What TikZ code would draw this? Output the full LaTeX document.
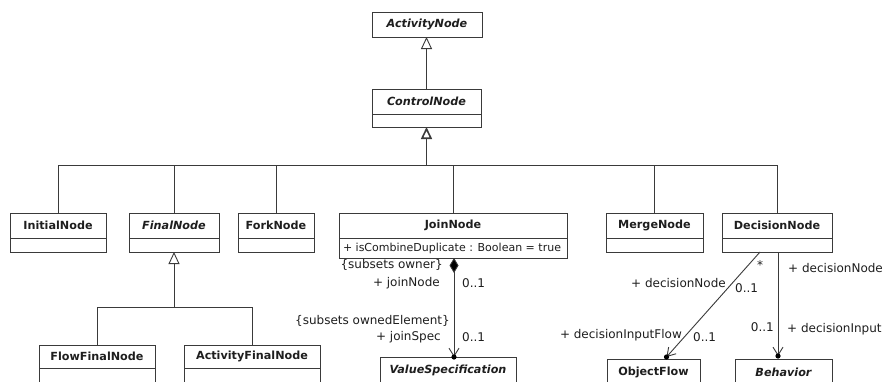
\documentclass[tikz,border=0pt]{standalone}
\usepackage{fontspec}
\setmainfont{DejaVu Sans}
\usetikzlibrary{arrows.meta,calc}
\definecolor{ln}{HTML}{3A3A3A}
\definecolor{tx}{HTML}{1E1E1E}
% name, left, top, right, divider, bottom, text
\newcommand{\umlbox}[7]{%
  \node[boxsty, minimum width={(#4-#2)*1pt}, minimum height={(#6-#3)*1pt}] (#1) at ({(#2+#4)/2},{(#3+#6)/2}) {};
  \draw[boxline] (#2,#5) -- (#4,#5);
  \node[namesty] (#1-name) at ({(#2+#4)/2},{(#3+#5)/2}) {#7};
}
\begin{document}
\begin{tikzpicture}[x=1pt,y=-1pt,
  boxsty/.style={draw=ln, line width=0.9pt, fill=white, inner sep=0pt, outer sep=0pt},
  boxline/.style={draw=ln, line width=0.9pt},
  namesty/.style={font=\fontsize{11.2}{13}\selectfont\bfseries, text=tx, inner sep=0pt},
  attrsty/.style={font=\fontsize{11}{13}\selectfont, text=tx, inner sep=0pt},
  lbl/.style={font=\fontsize{12}{14}\selectfont, text=tx, inner sep=0pt},
  conn/.style={draw=ln, line width=0.9pt},
  gen/.style={conn, -{Triangle[width=11pt,length=12pt,fill=white]}},
  nav/.style={conn, -{Straight Barb[length=8pt,width=10pt]}},
  comp/.style={conn, {Diamond[width=9pt,length=15pt,fill=black]}-{Straight Barb[length=8pt,width=10pt]}},
  dot/.style={fill=black}
]
\clip (0,0) rectangle (887,381);
\fill[white] (0,0) rectangle (887,381);

% classes
\umlbox{activity}{372}{12}{482}{37}{37}{\itshape ActivityNode}
\umlbox{control}{372}{89}{481}{114}{127}{\itshape ControlNode}
\umlbox{initial}{10}{213}{106}{238}{252}{InitialNode}
\umlbox{final}{129}{213}{219}{238}{252}{\itshape FinalNode}
\umlbox{fork}{238}{213}{314}{238}{252}{ForkNode}
\umlbox{join}{339}{213}{567}{238}{258}{JoinNode}
\node[attrsty] (join-attr) at (452,248) {+ isCombineDuplicate : Boolean = true};
\umlbox{merge}{606}{213}{703}{238}{252}{MergeNode}
\umlbox{decision}{722}{213}{832}{238}{252}{DecisionNode}
\umlbox{flowfinal}{39}{345}{155}{368}{395}{FlowFinalNode}
\umlbox{actfinal}{184}{345}{320}{368}{395}{ActivityFinalNode}
\umlbox{valspec}{380}{357}{516}{383}{395}{\itshape ValueSpecification}
\umlbox{objflow}{607}{359}{700}{385}{395}{ObjectFlow}
\umlbox{behavior}{735}{359}{832}{385}{395}{\itshape Behavior}

% ControlNode -> ActivityNode
\draw[gen] (control.north) -- (control.north |- activity.south);

% ControlNode generalization tree
\coordinate (bus) at (426.5,165);
\draw[gen, line width=1.6pt] (bus) -- (control.south);
\draw[conn] (initial.north) -- (initial.north |- bus) -- (decision.north |- bus) -- (decision.north);
\draw[conn] (final.north) -- (final.north |- bus);
\draw[conn] (fork.north) -- (fork.north |- bus);
\draw[conn] (join.north) -- (join.north |- bus);
\draw[conn] (merge.north) -- (merge.north |- bus);

% FinalNode generalization tree
\coordinate (fbus) at (174,307);
\draw[gen] (fbus) -- (final.south);
\draw[conn] (flowfinal.north) -- (flowfinal.north |- fbus) -- (actfinal.north |- fbus) -- (actfinal.north);

% JoinNode -> ValueSpecification
\coordinate (vsend) at ($(join.south |- valspec.north)+(1,0)$);
\coordinate (jstart) at ($(join.south)+(1,0)$);
\draw[comp] (jstart) -- (vsend);
\fill[dot] (vsend) circle (2.6);
\node[lbl, anchor=east] (l1) at (443,265) {\{subsets owner\}};
\node[lbl, anchor=east] (l2) at (440,283) {+ joinNode};
\node[lbl, anchor=west] (l3) at (462,283) {0..1};
\node[lbl, anchor=east] (l4) at (450,321) {\{subsets ownedElement\}};
\node[lbl, anchor=east] (l5) at (441,337) {+ joinSpec};
\node[lbl, anchor=west] (l6) at (462,337) {0..1};

% DecisionNode -> ObjectFlow
\coordinate (dstart) at ($(decision.south)+(-17,0)$);
\coordinate (ofend) at ($(objflow.north)+(13,-2)$);
\draw[nav] (dstart) -- (ofend);
\fill[dot] (ofend) circle (2.6);
\node[lbl, anchor=west] (l7) at (757,265) {*};
\node[lbl, anchor=east] (l8) at (726,283) {+ decisionNode};
\node[lbl, anchor=west] (l9) at (735,288) {0..1};
\node[lbl, anchor=east] (l10) at (682,335) {+ decisionInputFlow};
\node[lbl, anchor=west] (l11) at (693,337) {0..1};

% DecisionNode -> Behavior
\coordinate (bstart) at ($(decision.south)+(1,0)$);
\coordinate (bend) at ($(decision.south |- behavior.north)+(1,-3)$);
\draw[nav] (bstart) -- (bend);
\fill[dot] (bend) circle (2.6);
\node[lbl, anchor=west] (l12) at (788,268) {+ decisionNode};
\node[lbl, anchor=east] (l13) at (774,327) {0..1};
\node[lbl, anchor=west] (l14) at (787,329) {+ decisionInput};
\end{tikzpicture}
\end{document}
